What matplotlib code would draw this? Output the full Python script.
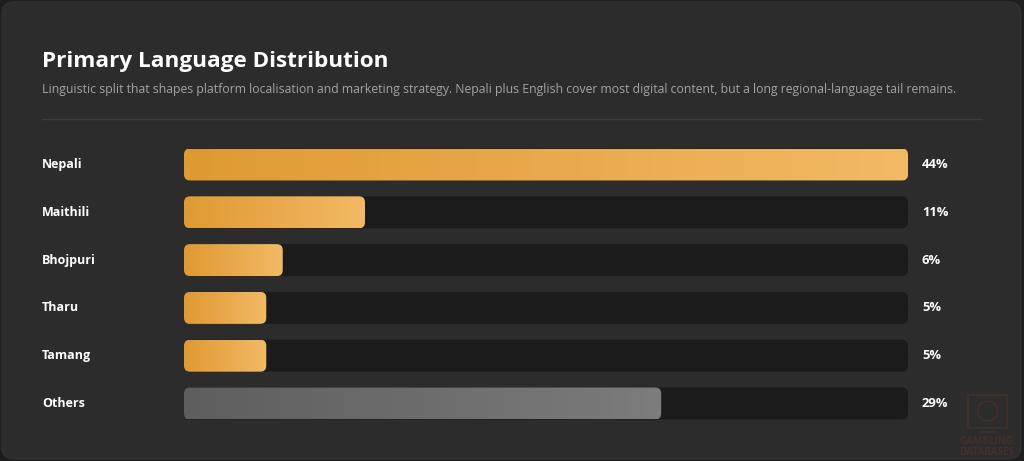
import matplotlib
matplotlib.use("Agg")
import matplotlib.pyplot as plt
import numpy as np
from matplotlib.patches import FancyBboxPatch, Rectangle, Ellipse
from matplotlib.colors import LinearSegmentedColormap
import matplotlib.transforms as mtransforms

# ---- data ----
languages = ["Nepali", "Maithili", "Bhojpuri", "Tharu", "Tamang", "Others"]
shares = [44, 11, 6, 5, 5, 29]
pct_labels = ["44%", "11%", "6%", "5%", "5%", "29%"]
title = "Primary Language Distribution"
subtitle = ("Linguistic split that shapes platform localisation and marketing strategy. "
            "Nepali plus English cover most digital content, but a long regional-language tail remains.")

W, H = 1024, 461
DPI = 100
fig = plt.figure(figsize=(W / DPI, H / DPI), dpi=DPI, facecolor="#1e1e1e")

def fx(px):
    return px / W

def fy(py):
    return 1 - py / H

# card background
card = FancyBboxPatch((fx(2), fy(459)), fx(1019), 457 / H,
                      boxstyle="round,pad=0,rounding_size=0.012",
                      mutation_aspect=W / H,
                      transform=fig.transFigure, facecolor="#2c2c2c",
                      edgecolor="#333333", linewidth=0.8, zorder=-10)
fig.patches.append(card)

FONT = "Open Sans"
fig.text(fx(42), fy(61), title, fontsize=16.2, fontweight="bold", color="white",
         family=FONT, va="center", ha="left")
fig.text(fx(42), fy(90), subtitle, fontsize=8.8, color="#a3a3a3",
         family=FONT, va="center", ha="left")
fig.add_artist(plt.Line2D([fx(42), fx(982)], [fy(119), fy(119)],
                          transform=fig.transFigure, color="#3d3d3d", lw=1))

# bar axes: track area
x0, x1 = 184, 908
row_top_center = 164.5
row_step = 47.8
n = len(languages)
ax_top = row_top_center - row_step / 2
ax_bot = row_top_center + (n - 1) * row_step + row_step / 2
ax = fig.add_axes([fx(x0), fy(ax_bot), fx(x1 - x0), (ax_bot - ax_top) / H])
ax.set_zorder(5)
ax.axis("off")
ax.patch.set_alpha(0)

px_per_x = (x1 - x0) / max(shares)
px_per_y = row_step
bar_h = 32 / px_per_y
r_px = 6
r = r_px / px_per_x
aspect = (1 / px_per_y) / (1 / px_per_x)

orange = LinearSegmentedColormap.from_list("o", ["#df9a32", "#f3b966"])
grey = LinearSegmentedColormap.from_list("g", ["#5e5e5e", "#7c7c7c"])
grad = np.linspace(0, 1, 256).reshape(1, -1)

tr_lab = mtransforms.blended_transform_factory(fig.transFigure, ax.transData)
for i, (lang, v, lab) in enumerate(zip(languages, shares, pct_labels)):
    track = FancyBboxPatch((0, i - bar_h / 2), max(shares), bar_h,
                           boxstyle=f"round,pad=0,rounding_size={r}",
                           mutation_aspect=aspect, facecolor="#1b1b1b",
                           edgecolor="none", zorder=1)
    ax.add_patch(track)
    bar = FancyBboxPatch((0, i - bar_h / 2), v, bar_h,
                         boxstyle=f"round,pad=0,rounding_size={r}",
                         mutation_aspect=aspect, facecolor="none",
                         edgecolor="none", zorder=2)
    ax.add_patch(bar)
    cmap = grey if lang == "Others" else orange
    im = ax.imshow(grad, cmap=cmap, aspect="auto",
                   extent=(0, v, i + bar_h / 2, i - bar_h / 2), zorder=2,
                   interpolation="bilinear")
    im.set_clip_path(bar)
    ax.text(fx(42), i, lang, transform=tr_lab, fontsize=9, fontweight="bold",
            color="white", family=FONT, va="center", ha="left", clip_on=False)
    ax.text(fx(922), i, lab, transform=tr_lab, fontsize=9.4, fontweight="bold",
            color="white", family=FONT, va="center", ha="left", clip_on=False)
ax.set_xlim(0, max(shares))
ax.set_ylim(n - 0.5, -0.5)

# watermark
wm = "#43302a"
fig.patches.append(Rectangle((fx(968), fy(428)), fx(39), 33 / H, transform=fig.transFigure,
                             facecolor="none", edgecolor=wm, lw=1.1, zorder=1))
fig.patches.append(Ellipse((fx(987.5), fy(411)), 20 / W, 20 / H, transform=fig.transFigure,
                           facecolor="none", edgecolor=wm, lw=1.0, zorder=1))
fig.add_artist(plt.Line2D([fx(980), fx(995)], [fy(432), fy(432)],
                          transform=fig.transFigure, color=wm, lw=1.1))
fig.text(fx(987), fy(441.5), "GAMBLING", fontsize=7.2, fontweight="bold",
         color=wm, family=FONT, ha="center", va="center")
fig.text(fx(987), fy(452.5), "DATABASES", fontsize=7.2, fontweight="bold",
         color=wm, family=FONT, ha="center", va="center")

fig.savefig("out.png", dpi=DPI, facecolor=fig.get_facecolor())
